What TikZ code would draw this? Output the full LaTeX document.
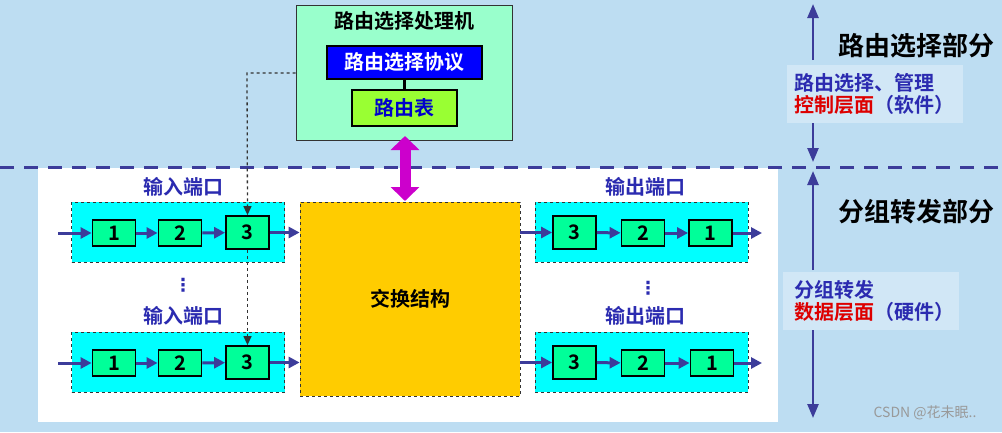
\documentclass[tikz,border=0pt]{standalone}
\usepackage{fontspec}
\setmainfont{Noto Sans CJK SC}[BoldFont={Noto Sans CJK SC Bold}]
\newfontfamily\dejavu{DejaVu Sans}
\usetikzlibrary{arrows.meta}
\definecolor{bg}{HTML}{BDDDF2}
\definecolor{nav}{HTML}{3C3C9A}
\definecolor{lbl}{HTML}{2B2BB0}
\definecolor{cyanb}{HTML}{66FFFF}
\definecolor{cellg}{HTML}{00FF99}
\definecolor{proc}{HTML}{99FFCC}
\definecolor{tab}{HTML}{99FF33}
\definecolor{sw}{HTML}{FFCC00}
\definecolor{mag}{HTML}{CC00CC}
\definecolor{redt}{HTML}{DD0000}
\definecolor{cy}{HTML}{00FFFF}
\begin{document}
\begin{tikzpicture}[x=1pt,y=-1pt,font=\bfseries,
  port/.style={draw=black!80,dashed,thick,fill=cy,minimum width=213pt,minimum height=60pt,inner sep=0},
  cell/.style={draw=black,line width=1.8pt,fill=cellg,minimum width=43pt,minimum height=26pt,inner sep=0,font=\bfseries\fontsize{20}{20}\selectfont},
  big/.style={cell,minimum height=33pt},
  flow/.style={-{Triangle[length=11pt,width=11pt]},draw=nav,line width=3pt},
  plab/.style={text=lbl,font=\bfseries\fontsize{20}{20}\selectfont},
  dots/.style={text=lbl,font=\dejavu\bfseries\fontsize{18}{18}\selectfont},
  dsh/.style={dashed,line width=1.3pt,black!80},
  side/.style={-{Triangle[length=14pt,width=11pt]},draw=nav,line width=2.5pt},
  tx/.style={font=\bfseries\fontsize{20}{20}\selectfont}]
\useasboundingbox (0,0) rectangle (1002,432);
\fill[bg] (0,0) rectangle (1002,432);
\fill[white] (38,168) rectangle (778,422);
\draw[nav,line width=3pt,dash pattern=on 14pt off 10pt] (0,167) -- (1002,167);
% processor
\node[draw=black!80,thick,fill=proc,minimum width=216pt,minimum height=135pt,inner sep=0] (proc) at (404,72.5) {};
\node[tx] (ptitle) at (404,21) {路由选择处理机};
\node[draw=black,line width=1.8pt,fill=blue,text=white,minimum width=155pt,minimum height=33pt,inner sep=0,tx] (proto) at (404.5,62.5) {路由选择协议};
\node[draw=black,line width=1.8pt,fill=tab,text=blue!80!black,minimum width=105pt,minimum height=36pt,inner sep=0,tx] (rtab) at (404.5,108) {路由表};
\draw[line width=2.5pt] (proto.south) -- (rtab.north);
% switch
\node[draw=black!80,dashed,thick,fill=sw,minimum width=220pt,minimum height=194pt,inner sep=0,tx] (sw) at (410,299) {交换结构};
\draw[mag,line width=11pt,{Triangle[length=14pt,width=28pt]}-{Triangle[length=14pt,width=28pt]}] (405,136) -- (405,201);
% input ports
\node[port] (ip1) at (178,232) {};
\node[port] (ip2) at (178,362) {};
\node[plab] (il1) at (183,187) {输入端口};
\node[plab] (il2) at (183,316) {输入端口};
\node[dots] (d1) at (183,285) {⋮};
\node[cell] (a1) at (114,233) {1};
\node[cell] (a2) at (180,233) {2};
\node[big] (a3) at (247.5,232.5) {3};
\node[cell] (b1) at (114,363) {1};
\node[cell] (b2) at (180,363) {2};
\node[big] (b3) at (247.5,362.5) {3};
\coordinate (ia) at (58,233); \coordinate (ib) at (58,363);
\draw[flow] (ia) -- (a1); \draw[flow] (a1) -- (a2); \draw[flow] (a2) -- (a3); \draw[flow] (a3) -- (a3 -| sw.west);
\draw[flow] (ib) -- (b1); \draw[flow] (b1) -- (b2); \draw[flow] (b2) -- (b3); \draw[flow] (b3) -- (b3 -| sw.west);
% output ports
\node[port] (op1) at (641.5,232) {};
\node[port] (op2) at (641.5,362) {};
\node[plab] (ol1) at (645,187) {输出端口};
\node[plab] (ol2) at (645,316) {输出端口};
\node[dots] (d2) at (648,288) {⋮};
\node[big] (c3) at (574.5,232.5) {3};
\node[cell] (c2) at (643,233) {2};
\node[cell] (c1) at (710.5,233) {1};
\node[big] (e3) at (574.5,362.5) {3};
\node[cell] (e2) at (643,363) {2};
\node[cell] (e1) at (712,363) {1};
\coordinate (oa) at (762,233); \coordinate (ob) at (762,363);
\draw[flow] (c3 -| sw.east) -- (c3); \draw[flow] (c3) -- (c2); \draw[flow] (c2) -- (c1); \draw[flow] (c1) -- (oa);
\draw[flow] (e3 -| sw.east) -- (e3); \draw[flow] (e3) -- (e2); \draw[flow] (e2) -- (e1); \draw[flow] (e1) -- (ob);
% dashed control path
\draw[dsh,-{Triangle[length=9pt,width=8pt]}] (proc.west |- 0,73) -- (247,73) -- (a3.north);
\draw[dsh,-{Triangle[length=9pt,width=8pt]}] (a3.south) -- (b3.north);
% right side
\coordinate (t1) at (813,4); \coordinate (t2) at (813,162);
\coordinate (u1) at (813,171); \coordinate (u2) at (813,418);
\draw[side] (813,60) -- (t1); \draw[side] (813,120) -- (t2);
\draw[side] (813,270) -- (u1); \draw[side] (813,330) -- (u2);
\node[font=\bfseries\fontsize{26}{26}\selectfont] (rs) at (916,46) {路由选择部分};
\node[font=\bfseries\fontsize{26}{26}\selectfont] (fs) at (916,212) {分组转发部分};
\node[fill=bg!70!white,minimum width=176pt,minimum height=58pt,inner sep=0] (bx1) at (875,94) {};
\node[fill=bg!70!white,minimum width=176pt,minimum height=58pt,inner sep=0] (bx2) at (871,301) {};
\node[anchor=west,text=lbl,tx] (r1) at (791,83) {路由选择、管理};
\node[anchor=west,tx] (r2) at (791,105) {\textcolor{redt}{控制层面}\textcolor{lbl}{（软件）}};
\node[anchor=west,text=lbl,tx] (s1) at (791,290) {分组转发};
\node[anchor=west,tx] (s2) at (791,312) {\textcolor{redt}{数据层面}\textcolor{lbl}{（硬件）}};
\node[text=gray!80,font=\fontsize{14}{14}\selectfont] (wm) at (925,413) {CSDN @花未眠..};
\end{tikzpicture}
\end{document}
